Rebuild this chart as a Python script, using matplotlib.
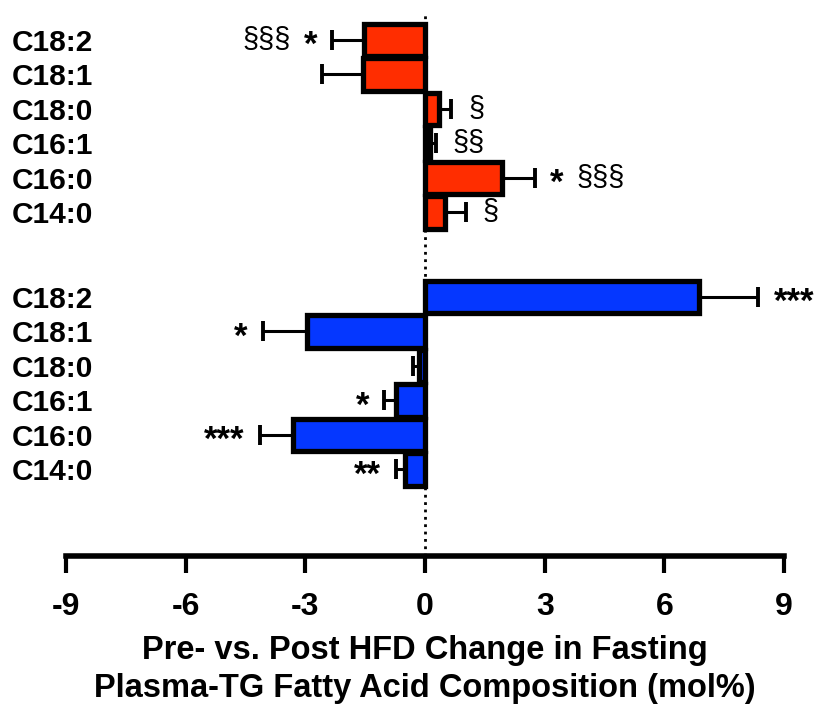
import matplotlib

matplotlib.use("Agg")
import matplotlib.pyplot as plt
import numpy as np

plt.rcParams["font.family"] = ["Liberation Sans", "DejaVu Sans"]

ACIDS = ["C18:2", "C18:1", "C18:0", "C16:1", "C16:0", "C14:0"]

# top group (red)
red_mean = [-1.52, -1.55, 0.36, 0.12, 1.92, 0.5]
red_err = [0.8, 1.02, 0.3, 0.15, 0.84, 0.52]
red_stars = ["*", "", "", "", "*", ""]
red_sects = ["§§§", "", "§", "§§", "§§§", "§"]

# bottom group (blue)
blue_mean = [6.86, -2.95, -0.15, -0.72, -3.32, -0.5]
blue_err = [1.5, 1.12, 0.15, 0.3, 0.82, 0.22]
blue_stars = ["***", "*", "", "*", "***", "**"]
blue_sects = ["", "", "", "", "", ""]

X_TICKS = [-9, -6, -3, 0, 3, 6, 9]
XLABEL = "Pre- vs. Post HFD Change in Fasting\nPlasma-TG Fatty Acid Composition (mol%)"

RED = "#FF2D00"
BLUE = "#0537FF"
FS = 21.5


def draw_group(ax, pos, means, errs, color):
    means = np.asarray(means)
    errs = np.asarray(errs)
    lo = np.where(means < 0, errs, 0)
    hi = np.where(means >= 0, errs, 0)
    ax.errorbar(
        means,
        pos,
        xerr=[lo, hi],
        fmt="none",
        ecolor="black",
        elinewidth=2.2,
        capsize=7.2,
        capthick=2.8,
        zorder=1,
    )
    ax.barh(
        pos,
        means,
        height=0.95,
        color=color,
        edgecolor="black",
        linewidth=3.8,
        zorder=2,
    )


def annotate_group(ax, pos, means, errs, stars, sects):
    for y, m, e, star, sect in zip(pos, means, errs, stars, sects):
        sign = 1 if m >= 0 else -1
        end = m + sign * e
        ha = "left" if sign > 0 else "right"
        off = 12
        if star:
            ax.annotate(
                star,
                (end, y),
                xytext=(sign * 11, -4),
                textcoords="offset points",
                ha=ha,
                va="center",
                fontsize=25,
                fontweight="bold",
            )
            off = 30
        if sect:
            ax.annotate(
                sect,
                (end, y),
                xytext=(sign * off, 0),
                textcoords="offset points",
                ha=ha,
                va="center",
                fontsize=21,
            )


def main():

    fig = plt.figure(figsize=(8.22, 7.04), dpi=100)
    ax = fig.add_axes([66 / 822, 1 - 556 / 704, 718 / 822, 544 / 704])

    n = len(ACIDS)
    red_pos = np.arange(n)
    blue_pos = np.arange(n) + n + 1.45

    ax.axvline(0, color="black", linestyle=":", linewidth=2, zorder=3)

    draw_group(ax, red_pos, red_mean, red_err, RED)
    draw_group(ax, blue_pos, blue_mean, blue_err, BLUE)
    annotate_group(ax, red_pos, red_mean, red_err, red_stars, red_sects)
    annotate_group(ax, blue_pos, blue_mean, blue_err, blue_stars, blue_sects)

    ax.set_xlim(-9, 9)
    ax.set_ylim(14.96, -0.81)

    ax.set_xticks(X_TICKS)
    ax.set_xticklabels([str(t) for t in X_TICKS], fontsize=23, fontweight="bold")
    ax.set_yticks(np.concatenate([red_pos, blue_pos]))
    ax.set_yticklabels(ACIDS + ACIDS, fontsize=FS, fontweight="bold", ha="left")

    ax.tick_params(axis="y", length=0, pad=39)
    ax.tick_params(axis="x", length=12, width=3, pad=14)

    for side in ["left", "right", "top"]:
        ax.spines[side].set_visible(False)
    ax.spines["bottom"].set_linewidth(4)

    ax.set_xlabel(XLABEL, fontsize=23.5, fontweight="bold", labelpad=9, linespacing=1.3)

    fig.savefig("out.png", dpi=100)
    plt.close(fig)


if __name__ == "__main__":
    main()
